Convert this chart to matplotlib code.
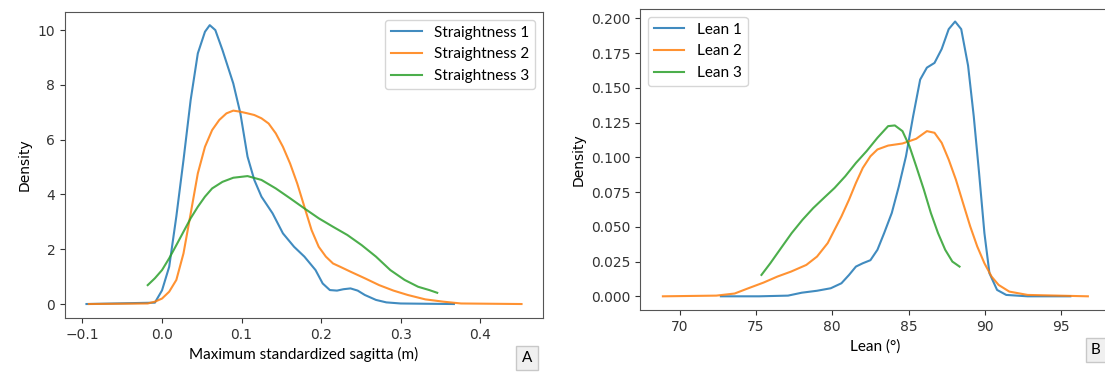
import matplotlib
matplotlib.use("Agg")
import matplotlib.pyplot as plt

# Painel A - sagitta maxima padronizada (m), densidade
s1_x = [-0.095, -0.009, 0.0, 0.009, 0.018, 0.027, 0.036, 0.045, 0.054, 0.060, 0.067, 0.076,
        0.0896, 0.0985, 0.1075, 0.116, 0.125, 0.139, 0.152, 0.166, 0.179, 0.193, 0.202,
        0.211, 0.220, 0.228, 0.237, 0.246, 0.255, 0.269, 0.282, 0.300, 0.331, 0.367]
s1_y = [0.0, 0.05, 0.5, 1.36, 3.2, 5.26, 7.45, 9.15, 9.94, 10.18, 10.0, 9.27,
        8.05, 6.96, 5.38, 4.53, 3.92, 3.31, 2.58, 2.09, 1.73, 1.24, 0.75,
        0.51, 0.49, 0.54, 0.57, 0.49, 0.33, 0.15, 0.06, 0.02, 0.01, 0.0]

s2_x = [-0.092, -0.018, -0.009, 0.0, 0.009, 0.018, 0.027, 0.036, 0.045, 0.054, 0.063, 0.072,
        0.081, 0.0896, 0.0985, 0.1075, 0.116, 0.125, 0.134, 0.143, 0.152, 0.161, 0.170,
        0.179, 0.188, 0.197, 0.206, 0.215, 0.224, 0.237, 0.255, 0.273, 0.291, 0.309,
        0.331, 0.354, 0.376, 0.452]
s2_y = [0.0, 0.02, 0.085, 0.2, 0.45, 0.88, 1.85, 3.3, 4.77, 5.74, 6.35, 6.72,
        6.96, 7.06, 7.02, 6.96, 6.9, 6.78, 6.59, 6.23, 5.74, 5.13, 4.40,
        3.55, 2.70, 2.09, 1.73, 1.48, 1.36, 1.18, 0.94, 0.69, 0.49, 0.33,
        0.17, 0.085, 0.02, 0.0]

s3_x = [-0.018, -0.009, 0.0, 0.009, 0.018, 0.027, 0.036, 0.045, 0.054, 0.063, 0.076, 0.0896,
        0.1075, 0.125, 0.143, 0.161, 0.179, 0.197, 0.215, 0.233, 0.251, 0.269, 0.287,
        0.305, 0.322, 0.336, 0.346]
s3_y = [0.69, 0.94, 1.24, 1.67, 2.15, 2.64, 3.13, 3.55, 3.92, 4.22, 4.46, 4.61,
        4.67, 4.53, 4.22, 3.86, 3.49, 3.13, 2.82, 2.52, 2.15, 1.73, 1.24,
        0.88, 0.63, 0.51, 0.41]

# Painel B - inclinacao (graus), densidade
l1_x = [72.7, 75.2, 77.1, 78.0, 79.0, 79.9, 80.6, 81.1, 81.55, 82.0, 82.5, 82.96, 83.4,
        83.9, 84.36, 84.83, 85.3, 85.76, 86.2, 86.7, 87.17, 87.63, 88.05, 88.45, 88.9,
        89.27, 89.62, 89.97, 90.3, 90.8, 91.4, 92.8, 95.6]
l1_y = [0.0, 0.0, 0.0005, 0.0026, 0.004, 0.0058, 0.0094, 0.0154, 0.0214, 0.0238, 0.026,
        0.0335, 0.0455, 0.060, 0.079, 0.1008, 0.1297, 0.156, 0.1646, 0.168, 0.178, 0.1923,
        0.1978, 0.1923, 0.166, 0.1297, 0.0888, 0.0455, 0.0166, 0.0046, 0.001, 0.0, 0.0]

l2_x = [68.9, 72.4, 73.6, 74.5, 75.5, 76.4, 77.3, 78.3, 79.0, 79.7, 80.15, 80.6, 81.1,
        81.55, 82.0, 82.5, 82.96, 83.66, 84.6, 85.5, 86.2, 86.7, 87.17, 87.63, 88.1,
        88.57, 89.04, 89.5, 89.97, 90.44, 90.9, 91.6, 92.8, 96.75]
l2_y = [0.0, 0.0005, 0.002, 0.0058, 0.0099, 0.0142, 0.0178, 0.0226, 0.0286, 0.0383, 0.0479,
        0.0575, 0.0696, 0.0816, 0.0924, 0.1008, 0.1057, 0.1085, 0.110, 0.1134, 0.1189,
        0.1177, 0.1105, 0.0984, 0.084, 0.0671, 0.0503, 0.0359, 0.0238, 0.0142, 0.0082,
        0.0034, 0.001, 0.0]

l3_x = [75.36, 75.94, 76.64, 77.34, 78.05, 78.75, 79.45, 80.15, 80.85, 81.55, 82.25, 82.96,
        83.66, 84.1, 84.6, 85.06, 85.5, 86.0, 86.46, 86.93, 87.4, 87.87, 88.34]
l3_y = [0.0154, 0.0238, 0.0347, 0.0455, 0.0551, 0.0635, 0.0708, 0.078, 0.0864, 0.096,
        0.1045, 0.1141, 0.1225, 0.123, 0.1189, 0.108, 0.0936, 0.0768, 0.060, 0.0455,
        0.0335, 0.025, 0.0214]

labels_a = ["Straightness 1", "Straightness 2", "Straightness 3"]
labels_b = ["Lean 1", "Lean 2", "Lean 3"]
cores = ["#1f77b4", "#ff7f0e", "#2ca02c"]
fonte_rotulo = ["Lato", "DejaVu Sans"]

fig = plt.figure(figsize=(11.05, 3.74), dpi=100)

# ---- Painel A ----
ax1 = fig.add_axes([65/1105, 1 - 318/374, 478/1105, 306/374])
for xs, ys, lab, c in zip([s1_x, s2_x, s3_x], [s1_y, s2_y, s3_y], labels_a, cores):
    ax1.plot(xs, ys, color=c, lw=1.5, alpha=0.85, label=lab)
ax1.set_xlim(-0.122, 0.479)
ax1.set_ylim(-0.51, 10.66)
ax1.set_xticks([-0.1, 0.0, 0.1, 0.2, 0.3, 0.4])
ax1.set_yticks([0, 2, 4, 6, 8, 10])
ax1.set_ylabel("Density", fontsize=10)
ax1.set_xlabel("Maximum standardized sagitta (m)", fontsize=11, family=fonte_rotulo)
leg1 = ax1.legend(loc="upper right", prop={"family": fonte_rotulo, "size": 11})

# ---- Painel B ----
ax2 = fig.add_axes([640/1105, 1 - 310/374, 470/1105, 301/374])
for xs, ys, lab, c in zip([l1_x, l2_x, l3_x], [l1_y, l2_y, l3_y], labels_b, cores):
    ax2.plot(xs, ys, color=c, lw=1.5, alpha=0.85, label=lab)
ax2.set_xlim(67.4, 98.2)
ax2.set_ylim(-0.00985, 0.2068)
ax2.set_xticks([70, 75, 80, 85, 90, 95])
ax2.set_yticks([0.0, 0.025, 0.05, 0.075, 0.1, 0.125, 0.15, 0.175, 0.2])
ax2.set_yticklabels(["0.000", "0.025", "0.050", "0.075", "0.100", "0.125", "0.150", "0.175", "0.200"])
ax2.set_ylabel("Density", fontsize=10)
ax2.set_xlabel("Lean (°)", fontsize=11, family=fonte_rotulo)
leg2 = ax2.legend(loc="upper left", prop={"family": fonte_rotulo, "size": 11})

for ax in (ax1, ax2):
    ax.tick_params(labelsize=10, colors="#333333")
    for s in ax.spines.values():
        s.set_color("#555555")

# Letras dos paineis
caixa = dict(boxstyle="square,pad=0.35", facecolor="#f0f0f0", edgecolor="#c8c8c8")
fig.text(527/1105, 1 - 358/374, "A", ha="center", va="center", fontsize=11,
         family=fonte_rotulo, bbox=caixa)
fig.text(1096/1105, 1 - 350/374, "B", ha="center", va="center", fontsize=11,
         family=fonte_rotulo, bbox=caixa)

fig.savefig("out.png", dpi=100)
